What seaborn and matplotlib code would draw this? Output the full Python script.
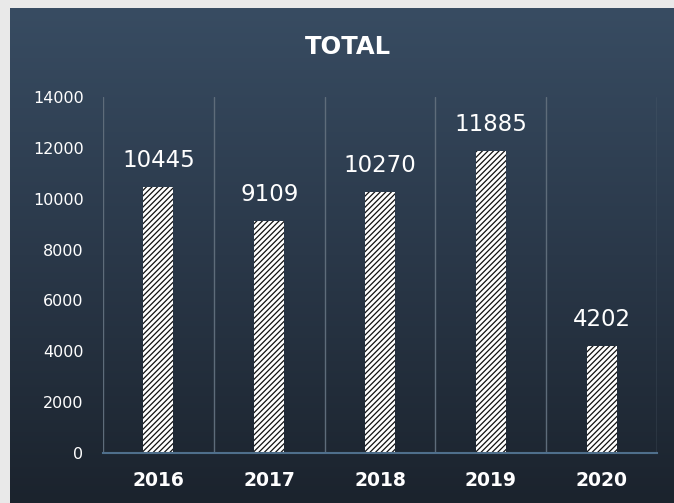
import numpy as np
import matplotlib
matplotlib.use("Agg")
import matplotlib.pyplot as plt
from matplotlib.colors import LinearSegmentedColormap
import seaborn as sns

# Données du graphique
annees = ["2016", "2017", "2018", "2019", "2020"]
totaux = [10445, 9109, 10270, 11885, 4202]
titre = "TOTAL"

sns.set_theme(style="dark")
plt.rcParams['font.family'] = ['DejaVu Sans']
plt.rcParams['hatch.linewidth'] = 0.9

fig = plt.figure(figsize=(6.74, 5.03), dpi=100)
fig.patch.set_facecolor("#e9e9e9")

# Fond en dégradé (panneau sombre)
bg = fig.add_axes([10 / 674, 0, 664 / 674, 495 / 503])
degrade = LinearSegmentedColormap.from_list("deg", ["#1b232d", "#2a3849", "#384c62"])
bg.imshow(np.linspace(0, 1, 256).reshape(-1, 1), aspect="auto", cmap=degrade,
          origin="lower", extent=[0, 1, 0, 1])
bg.set_axis_off()

ax = fig.add_axes([103 / 674, 50 / 503, 554 / 674, 356 / 503])
ax.patch.set_alpha(0)

sns.barplot(x=annees, y=totaux, color="white", width=0.27, saturation=1,
            edgecolor="black", linewidth=0, ax=ax)
for p in ax.patches:
    p.set_hatch("//////")
    p.set_facecolor("white")
    p.set_edgecolor("#111111")
    p.set_linewidth(0)

ax.bar_label(ax.containers[0], labels=[str(v) for v in totaux], padding=11,
             color="white", fontsize=16.5)

ax.set_ylim(0, 14000)
ax.set_xlim(-0.5, len(annees) - 0.5)
ax.set_yticks(range(0, 14001, 2000))
ax.set_xticks(np.arange(-0.5, len(annees), 1), minor=True)
ax.grid(False)
ax.grid(True, which="minor", axis="x", color="#5e6c7a", linewidth=1)
ax.tick_params(axis="both", which="both", length=0)
ax.tick_params(axis="y", colors="white", labelsize=11.5, pad=14)
ax.tick_params(axis="x", colors="white", labelsize=13.5, pad=13)
for lab in ax.get_xticklabels():
    lab.set_fontweight("bold")
ax.set_xlabel("")
ax.set_ylabel("")
for s in ["top", "right", "left"]:
    ax.spines[s].set_visible(False)
ax.spines["bottom"].set_color("#4f6f8c")
ax.spines["bottom"].set_linewidth(1.5)

fig.text(348 / 674, 1 - 47 / 503, titre, ha="center", va="center",
         color="white", fontsize=17.5, fontweight="bold")

fig.savefig("out.png", dpi=100, facecolor=fig.get_facecolor())
